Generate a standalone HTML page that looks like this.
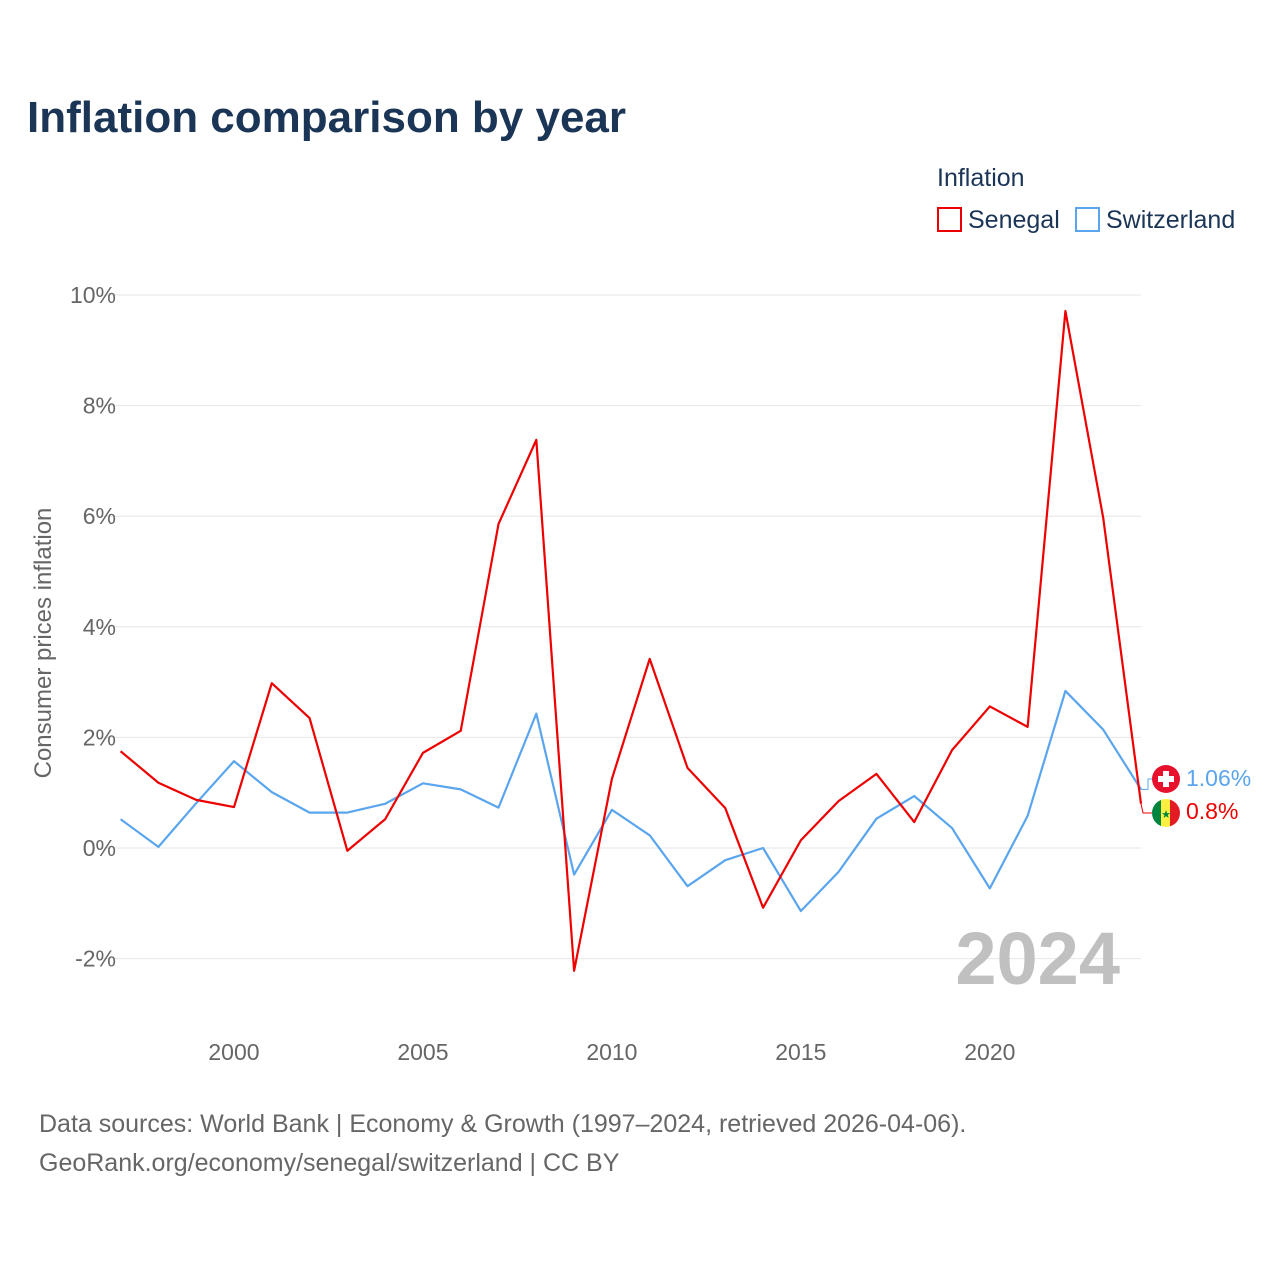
<!DOCTYPE html>
<html><head><meta charset="utf-8"><style>
html,body{margin:0;padding:0;background:#fff;}
body{width:1280px;height:1280px;font-family:"Liberation Sans",sans-serif;}
</style></head><body>
<svg id="chart" width="1280" height="1280" xmlns="http://www.w3.org/2000/svg">
<text x="27" y="132" font-size="44" font-weight="bold" fill="#1b3556">Inflation comparison by year</text>
<text x="937" y="186" font-size="25" fill="#1b3556">Inflation</text>
<g><rect x="938" y="208" width="23" height="23" fill="none" stroke="#ee0000" stroke-width="2"/><text x="968" y="228" font-size="25" fill="#1b3556">Senegal</text></g>
<g><rect x="1076" y="208" width="23" height="23" fill="none" stroke="#5aa5ee" stroke-width="2"/><text x="1106" y="228" font-size="25" fill="#1b3556">Switzerland</text></g>
<text transform="translate(51,643) rotate(-90)" text-anchor="middle" font-size="24" fill="#666">Consumer prices inflation</text>
<g id="grid"></g><g id="xt"></g><g id="lines"></g>
<text x="1120" y="984" text-anchor="end" font-size="74" font-weight="bold" fill="#c0c0c0">2024</text>
<text x="39" y="1132" font-size="25" fill="#666">Data sources: World Bank | Economy &amp; Growth (1997–2024, retrieved 2026-04-06).</text>
<text x="39" y="1171" font-size="25" fill="#666">GeoRank.org/economy/senegal/switzerland | CC BY</text>
</svg>
<script>
const years=[];for(let y=1997;y<=2024;y++)years.push(y);
const senegal=[1.75,1.18,0.87,0.74,2.98,2.35,-0.05,0.52,1.72,2.12,5.86,7.38,-2.22,1.25,3.42,1.45,0.72,-1.08,0.14,0.85,1.34,0.47,1.77,2.56,2.19,9.71,5.97,0.8];
const switzerland=[0.52,0.02,0.81,1.57,1.01,0.64,0.64,0.80,1.17,1.06,0.73,2.43,-0.48,0.69,0.23,-0.69,-0.22,0,-1.14,-0.43,0.53,0.94,0.36,-0.73,0.58,2.84,2.14,1.06];
const yTicks=[-2,0,2,4,6,8,10];
const xTicks=[2000,2005,2010,2015,2020];
const NS="http://www.w3.org/2000/svg";
const X=y=>120.6+(y-1997)*(1141-120.6)/27;
const Y=v=>848-v*55.3;
function mk(t,a,p){const e=document.createElementNS(NS,t);for(const k in a)e.setAttribute(k,a[k]);p.appendChild(e);return e;}
const g=document.getElementById('grid');
yTicks.forEach(v=>{
 const l=mk('line',{x1:100,x2:1141,y1:Y(v),y2:Y(v),stroke:'#e6e6e6','stroke-width':1},g);
 
 
 const t=mk('text',{x:116,y:Y(v)+8,'text-anchor':'end','font-size':23,fill:'#666'},g);
 
 
 t.textContent=v+'%';
});
const xt=document.getElementById('xt');
xTicks.forEach(v=>{
 const t=mk('text',{x:X(v),y:1060,'text-anchor':'middle','font-size':23,fill:'#666'},xt);
 
 
 t.textContent=v;
});
const L=document.getElementById('lines');
function series(vals,col,name){
 const p=mk('polyline',{points:vals.map((v,i)=>X(years[i])+','+Y(v)).join(' '),fill:'none',stroke:col,'stroke-width':2.2,'stroke-linejoin':'round'},L);
 
 
}
series(switzerland,'#5aa5ee','switzerland-line');
series(senegal,'#ee0000','senegal-line');
// end labels
const sv=switzerland[switzerland.length-1], nv=senegal[senegal.length-1];
const c1=mk('circle',{cx:1166,cy:779,r:14,fill:'#e8112d'},L);


mk('rect',{x:1163,y:771,width:6,height:16,fill:'#fff'},L);mk('rect',{x:1158,y:776,width:16,height:6,fill:'#fff'},L);
const c2=mk('g',{},L);


mk('clipPath',{id:'cp'},c2);mk('circle',{cx:1166,cy:813,r:14},document.getElementById('cp'));
mk('rect',{x:1152,y:799,width:10,height:28,fill:'#00853f','clip-path':'url(#cp)'},c2);
mk('rect',{x:1161,y:799,width:10,height:28,fill:'#fdef42','clip-path':'url(#cp)'},c2);
mk('rect',{x:1170,y:799,width:10,height:28,fill:'#e31b23','clip-path':'url(#cp)'},c2);
mk('text',{x:1166,y:818,'text-anchor':'middle','font-size':11,fill:'#00853f'},c2).textContent='★';
mk('path',{d:`M${X(2024)} ${Y(sv)} L1148 ${Y(sv)} L1148 779 L1152 779`,fill:'none',stroke:'#5aa5ee','stroke-width':1},L);
mk('path',{d:`M${X(2024)} ${Y(nv)} L1143 813 L1152 813`,fill:'none',stroke:'#ee0000','stroke-width':1},L);
const t1=mk('text',{x:1186,y:786,'font-size':23,fill:'#5aa5ee'},L);


t1.textContent=sv+'%';
const t2=mk('text',{x:1186,y:819,'font-size':23,fill:'#ee0000'},L);


t2.textContent=nv+'%';
</script>
</body></html>
